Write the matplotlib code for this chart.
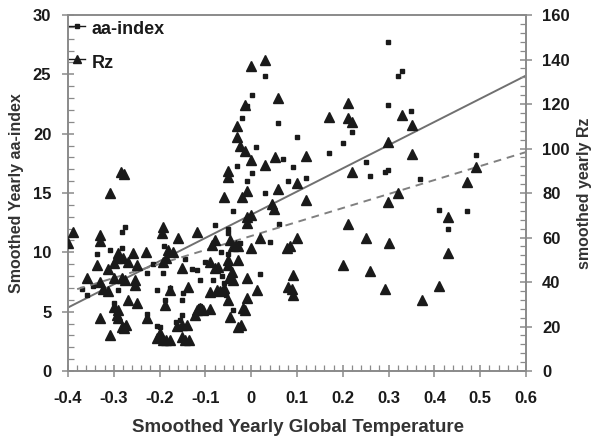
import matplotlib
matplotlib.use("Agg")
import matplotlib.pyplot as plt
from matplotlib.ticker import MultipleLocator

# aa-index (dots), left axis
temp_aa = [0.03, 0.002, -0.01, 0.059, -0.02, 0.1, 0.01, 0.069, 0.092, -0.031,
           0.002, -0.01, 0.03, 0.08, -0.04, 0.299, 0.32, 0.329, 0.299, 0.22,
           0.2, 0.17, 0.349, 0.25, 0.299, 0.292, 0.26, 0.12, 0.369, 0.49,
           0.41, 0.471, 0.43,
           -0.358, -0.337, -0.282, -0.276, -0.308, -0.282, -0.29, -0.3, -0.228,
           -0.228, -0.206, -0.19, -0.192, -0.177, -0.188, -0.151, -0.148, -0.144,
           -0.118, -0.112, -0.2, -0.206, -0.155, -0.165, -0.151, -0.112, -0.083,
           -0.06, -0.063, -0.079, -0.05, -0.05, -0.05, -0.055, -0.04, 0.02, 0.04,
           -0.37, -0.345, -0.215, -0.13, -0.1, -0.025, -0.065, 0.06]
aa = [24.9, 23.3, 22.3, 20.9, 21.3, 19.7, 18.9, 17.9, 17.2, 17.3,
      16.7, 16.0, 15.0, 16.0, 13.5, 27.7, 24.9, 25.3, 22.4, 20.1,
      19.2, 18.4, 21.9, 17.6, 16.9, 16.8, 16.4, 16.3, 16.2, 18.2,
      13.6, 13.5, 12.0,
      6.4, 9.9, 11.7, 12.1, 10.2, 10.4, 6.8, 5.7, 8.3,
      4.8, 6.8, 10.5, 8.3, 7.0, 6.0, 6.0, 6.6, 9.4,
      8.5, 7.7, 3.7, 3.8, 4.3, 4.1, 4.7, 5.5, 7.7,
      7.4, 8.0, 12.3, 12.0, 11.6, 9.9, 6.4, 5.1, 8.2, 10.9,
      6.9, 7.2, 9.0, 8.6, 9.2, 10.8, 10.0, 12.4]

# Rz (triangles), right axis
temp_rz = [-0.308, -0.285, -0.278, 0.0, 0.03, -0.014, 0.059, -0.031, -0.031, -0.024,
           -0.014, 0.0, 0.03, 0.052, -0.05, -0.05, -0.06, -0.02, -0.01, 0.059,
           0.1, 0.045, 0.05, 0.0,
           0.211, 0.17, 0.212, 0.22, 0.329, 0.351, 0.299, 0.351, 0.12, 0.22,
           0.471, 0.49, 0.12, 0.299, 0.32, 0.43,
           0.212, 0.25, 0.301, 0.1, 0.085, 0.43, 0.2, 0.26, 0.092, 0.292,
           0.41, 0.373, 0.09, 0.092,
           -0.4, -0.389, -0.358, -0.337, -0.33, -0.33, -0.33, -0.308, -0.33, -0.323,
           -0.313, -0.313, -0.3, -0.29, -0.292, -0.28, -0.269, -0.258, -0.25, -0.3,
           -0.282, -0.276, -0.254, -0.254, -0.269, -0.25, -0.3, -0.29, -0.292, -0.29,
           -0.278, -0.282, -0.274, -0.23, -0.228, -0.192, -0.194, -0.182, -0.17, -0.192,
           -0.185, -0.177, -0.188, -0.206, -0.2, -0.192, -0.185, -0.177, -0.162, -0.151,
           -0.14, -0.151, -0.144, -0.135, -0.16, -0.151, -0.138, -0.118, -0.122, -0.118,
           -0.112, -0.105, -0.09, -0.09, -0.075, -0.068, -0.06, -0.09, -0.079, -0.072,
           -0.079, -0.085, -0.046, -0.04, -0.034, -0.028, -0.05, -0.05, -0.028, -0.048,
           -0.04, -0.042, -0.01, -0.05, -0.046, -0.018, -0.014, -0.029, -0.022, -0.01,
           0.013, 0.0, -0.01, -0.01, 0.02, 0.078, 0.08]
rz = [80, 89.5, 88.5, 137, 140, 119.5, 122.7, 110, 105, 101,
      99, 95, 92.6, 96, 90, 87, 78, 78, 81, 82,
      84.5, 75, 73, 70,
      120.5, 114, 113.6, 112, 115, 110.6, 103, 97.5, 96.6, 89.5,
      85, 91.7, 77, 76, 80, 69,
      66, 60, 57.6, 59.8, 56, 53, 47.6, 45, 43, 37,
      38, 32, 37, 34,
      57.5, 62.5, 42, 47.6, 61, 58.5, 23.8, 16, 40, 37,
      36, 46, 48.5, 53, 50.7, 51, 49, 53, 47.6, 41.7,
      41.7, 41, 41, 38.6, 32, 30.5, 28.8, 27.5, 25, 24,
      19.3, 20, 20.5, 53.5, 23.8, 64.7, 62, 54.4, 53.5, 49,
      51, 36.4, 29.7, 14.9, 17, 13.9, 13.9, 13.9, 20.2, 20.8,
      20.8, 15.4, 14, 14, 60, 46.4, 37.8, 62.4, 25, 27.5,
      28.3, 27.5, 28, 35.5, 36.4, 36, 37.3, 49, 46.4, 46.8,
      58.8, 56.6, 58.8, 56, 56.6, 56, 50, 47.6, 50, 42,
      41, 44.3, 42, 32, 24.3, 28.4, 27.5, 19.7, 20.8, 32.8,
      36.4, 55.3, 69.3, 66.6, 59.8, 55.3, 37.8]

# regression line end points
fit_aa_x = [-0.4, 0.6]
fit_aa_y = [5.35, 24.9]
fit_rz_x = [-0.38, 0.6]
fit_rz_y = [36.8, 98.4]

plt.rcParams["font.family"] = ["Liberation Sans", "DejaVu Sans"]
plt.rcParams["font.weight"] = "bold"
ink = "#1a1a1a"
grey = "#8a8a8a"
label_col = "#333333"

fig = plt.figure(figsize=(5.96, 4.4), dpi=100)
ax = fig.add_axes([0.1141, 0.1568, 0.7685, 0.8091])
ax2 = ax.twinx()

ax.plot(fit_aa_x, fit_aa_y, color="#707070", lw=1.4, zorder=2)
ax2.plot(fit_rz_x, fit_rz_y, color="#808080", lw=1.4, ls=(0, (4, 3)), zorder=2)

ax2.plot(temp_rz, rz, ls="none", marker="^", ms=7, color=ink, zorder=3)
ax.plot(temp_aa, aa, ls="none", marker="s", ms=2.3, color=ink, zorder=3)

ax.set_xlim(-0.4, 0.6)
ax.set_ylim(0, 30)
ax2.set_ylim(0, 160)

for a in (ax, ax2):
    for s in a.spines.values():
        s.set_color(grey)
        s.set_linewidth(1.2)

ax.xaxis.set_minor_locator(MultipleLocator(0.02))
ax.yaxis.set_major_locator(MultipleLocator(5))
ax.yaxis.set_minor_locator(MultipleLocator(1))
ax2.yaxis.set_major_locator(MultipleLocator(20))
ax2.yaxis.set_minor_locator(MultipleLocator(4))

ax.set_xticks([-0.4, -0.3, -0.2, -0.1, 0, 0.1, 0.2, 0.3, 0.4, 0.5, 0.6])
ax.set_xticklabels(["-0.4", "-0.3", "-0.2", "-0.1", "0", "0.1", "0.2", "0.3", "0.4", "0.5", "0.6"])

ax.tick_params(axis="both", which="major", direction="inout", length=9, width=1.1,
               color=grey, labelsize=12, labelcolor=ink)
ax.tick_params(axis="x", which="major", pad=10)
ax.tick_params(axis="y", which="major", pad=7.5)
ax.tick_params(axis="both", which="minor", direction="in", length=4, width=0.9, color=grey)
ax2.tick_params(axis="y", which="major", direction="inout", length=9, width=1.1,
                color=grey, labelsize=12, labelcolor=ink, pad=7)
ax2.tick_params(axis="y", which="minor", direction="in", length=4, width=0.9, color=grey)

# axis titles placed where the reference has them
fig.text(0.5, 0.0295, "Smoothed Yearly Global Temperature", fontsize=13.5,
         fontweight="bold", color=label_col, ha="center", va="center")
fig.text(0.0285, 0.56, "Smoothed Yearly aa-index", fontsize=11.5, rotation=90,
         fontweight="bold", color=label_col, ha="center", va="center")
fig.text(0.9805, 0.56, "smoothed yearly Rz", fontsize=11.5, rotation=90,
         fontweight="bold", color=label_col, ha="center", va="center")

# legend drawn by hand in the top-left corner
ax.plot([0.0, 0.037], [0.969, 0.969], transform=ax.transAxes, color=ink, lw=1, clip_on=False)
ax.plot([0.019], [0.969], transform=ax.transAxes, marker="s", ms=2.3, color=ink, clip_on=False)
ax.plot([0.0, 0.037], [0.876, 0.876], transform=ax.transAxes, color=ink, lw=1, clip_on=False)
ax.plot([0.019], [0.876], transform=ax.transAxes, marker="^", ms=6, color=ink, clip_on=False)
ax.text(0.052, 0.958, "aa-index", transform=ax.transAxes, fontsize=13, fontweight="bold",
        color=ink, va="center")
ax.text(0.052, 0.865, "Rz", transform=ax.transAxes, fontsize=13, fontweight="bold",
        color=ink, va="center")

fig.savefig("out.png", dpi=100)
